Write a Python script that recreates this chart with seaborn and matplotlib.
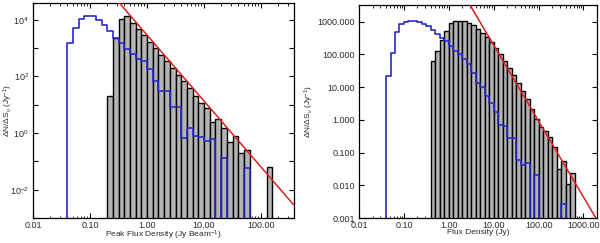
import numpy as np
import pandas as pd
import matplotlib
matplotlib.use("Agg")
import matplotlib.pyplot as plt
import seaborn as sns
from matplotlib.ticker import FixedLocator, FixedFormatter, LogLocator, NullFormatter, NullLocator

# ---------------- data ----------------
bin_width_dex = 0.1

# Left panel: peak flux density
left_gray_start = 0.2
left_gray_values = [20.4, 2290, 10700, 14100, 7590, 4900, 2880, 1700, 977, 575,
                    339, 195, 115, 67.6, 38.9, 20.0, 11.7, 7.76, 2.51, 3.09,
                    1.48, 0.50, 0.76, 0.20, 0.26, 0, 0, 0, 0.063]
left_blue_start = 0.04
left_blue_values = [1450, 5130, 10700, 14100, 14100, 10000, 6760, 3890, 2290, 1550,
                    955, 603, 417, 355, 178, 70.8, 29.5, 29.5, 8.3, 8.3,
                    0.66, 1.55, 0.81, 0.71, 0.52, 0.63, 0, 0.13, 0, 0,
                    0, 0.056]
left_fit_amp = 2900.0     # N(1 Jy)
left_fit_index = -2.33

# Right panel: integrated flux density
right_gray_start = 0.4
right_gray_values = [60.3, 126, 282, 501, 891, 1070, 1070, 1020, 912, 776,
                     603, 447, 331, 234, 151, 100, 60.3, 38.0, 22.9, 13.2,
                     7.59, 4.37, 2.19, 1.05, 0.60, 0.44, 0.30, 0.15, 0.032, 0.054,
                     0.011, 0.024]
right_blue_start = 0.04
right_blue_values = [21.4, 107, 468, 851, 1000, 1070, 1050, 1000, 851, 708,
                     562, 417, 316, 251, 178, 126, 100, 70.8, 50.1, 26.3,
                     13.2, 10.0, 5.5, 3.31, 1.74, 0.69, 0.66, 0.275, 0.275, 0.060,
                     0.041, 0.048, 0, 0.021, 0, 0, 0, 0, 0, 0.0027]
right_fit_amp = 39800.0
right_fit_index = -2.32

left_xticks = [0.01, 0.1, 1, 10, 100]
left_xticklabels = ["0.01", "0.10", "1.00", "10.00", "100.00"]
left_yticks = [1e-3, 1e-2, 1e-1, 1e0, 1e1, 1e2, 1e3, 1e4]
left_yticklabels = ["", "$10^{-2}$", "", "$10^{0}$", "", "$10^{2}$", "", "$10^{4}$"]
right_xticks = [0.01, 0.1, 1, 10, 100, 1000]
right_xticklabels = ["0.01", "0.10", "1.00", "10.00", "100.00", "1000.00"]
right_yticks = [1e-3, 1e-2, 1e-1, 1e0, 1e1, 1e2, 1e3]
right_yticklabels = ["0.001", "0.010", "0.100", "1.000", "10.000", "100.000", "1000.000"]

left_xlabel = "Peak Flux Density (Jy Beam$^{-1}$)"
right_xlabel = "Flux Density (Jy)"
ylabel_text = "ΔN/ΔS$_{\\nu}$ (Jy$^{-1}$)"

# ---------------- style ----------------
sns.set_theme(style="white")
plt.rcParams["font.family"] = ["Liberation Sans", "DejaVu Sans"]
plt.rcParams["mathtext.fontset"] = "custom"
plt.rcParams["mathtext.rm"] = "Liberation Sans"
plt.rcParams["mathtext.it"] = "Liberation Sans:italic"
plt.rcParams["mathtext.bf"] = "Liberation Sans:bold"

TXT = "#2a2a2a"
GRAY = "#b4b4b4"
BLUE = "#2a2acc"
RED = "#dd2020"


def hist_frame(start, values, pad):
    vals = list(values)
    lo = np.log10(start)
    if pad:
        vals = [0.0] + vals + [0.0]
        lo -= bin_width_dex
    n = len(vals)
    edges_log = lo + bin_width_dex * np.arange(n + 1)
    centers = 10 ** (edges_log[:-1] + bin_width_dex / 2)
    return pd.DataFrame({"S": centers, "N": vals}), [float(e) for e in edges_log]


def panel(ax, gray_start, gray_vals, blue_start, blue_vals, amp, idx,
          xlim, ylim, xt, xtl, yt, ytl, xlabel, ylab_x):
    gdf, gedges = hist_frame(gray_start, gray_vals, False)
    bdf, bedges = hist_frame(blue_start, blue_vals, True)
    sns.histplot(data=gdf, x="S", weights="N", bins=gedges, log_scale=True,
                 element="bars", color=GRAY, edgecolor="black", linewidth=1.0,
                 alpha=1.0, ax=ax, zorder=1)
    sns.histplot(data=bdf, x="S", weights="N", bins=bedges, log_scale=True,
                 element="step", fill=False, color=BLUE, linewidth=1.2,
                 ax=ax, zorder=2)
    fit_x = np.array(xlim)
    fit_df = pd.DataFrame({"S": fit_x, "N": amp * fit_x ** idx})
    sns.lineplot(data=fit_df, x="S", y="N", color=RED, linewidth=1.1, ax=ax,
                 zorder=3)
    ax.set_yscale("log", nonpositive="clip")
    ax.set_xlim(xlim)
    ax.set_ylim(ylim)
    ax.xaxis.set_major_locator(FixedLocator(xt))
    ax.xaxis.set_major_formatter(FixedFormatter(xtl))
    ax.xaxis.set_minor_locator(LogLocator(base=10, subs=np.arange(2, 10)))
    ax.xaxis.set_minor_formatter(NullFormatter())
    ax.yaxis.set_major_locator(FixedLocator(yt))
    ax.yaxis.set_major_formatter(FixedFormatter(ytl))
    ax.yaxis.set_minor_locator(NullLocator())
    ax.tick_params(which="both", direction="in", top=True, right=True,
                   bottom=True, left=True, labelsize=6.5, colors="black",
                   labelcolor=TXT, pad=3)
    ax.tick_params(axis="x", which="both", pad=2)
    ax.tick_params(which="major", length=3.5, width=0.8)
    ax.tick_params(which="minor", length=1.8, width=0.6)
    for s in ax.spines.values():
        s.set_color("black")
        s.set_linewidth(0.9)
    ax.set_xlabel(xlabel, fontsize=6.0, color=TXT)
    ax.set_ylabel(ylabel_text, fontsize=6.0, color=TXT)
    ax.xaxis.set_label_coords(0.5, -0.05)
    ax.yaxis.set_label_coords(ylab_x, 0.5)


fig = plt.figure(figsize=(6.0, 2.43), dpi=100)
fig.patch.set_facecolor("white")
axL = fig.add_axes([33 / 600, 25 / 243, 261 / 600, 215 / 243])
axR = fig.add_axes([359 / 600, 25 / 243, 238 / 600, 213 / 243])

panel(axL, left_gray_start, left_gray_values, left_blue_start, left_blue_values,
      left_fit_amp, left_fit_index, (0.01, 380), (1e-3, 3.9e4),
      left_xticks, left_xticklabels, left_yticks, left_yticklabels,
      left_xlabel, -0.068)
panel(axR, right_gray_start, right_gray_values, right_blue_start, right_blue_values,
      right_fit_amp, right_fit_index, (0.01, 2000), (1e-3, 3.2e3),
      right_xticks, right_xticklabels, right_yticks, right_yticklabels,
      right_xlabel, -0.18)

fig.savefig("out.png", dpi=100, facecolor="white")
